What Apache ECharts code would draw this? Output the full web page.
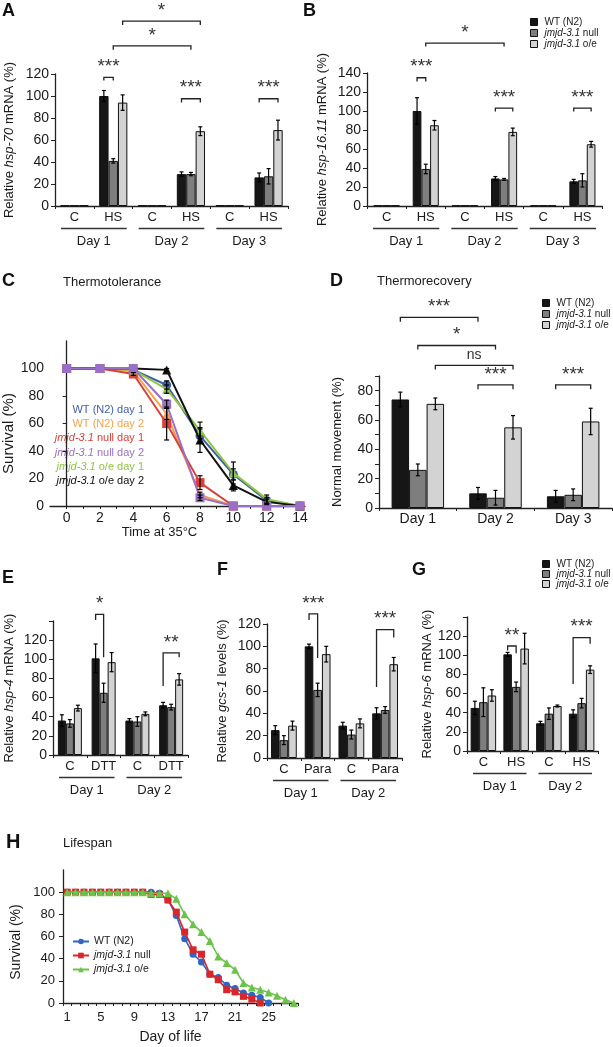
<!DOCTYPE html>
<html>
<head>
<meta charset="utf-8">
<script src="https://cdn.jsdelivr.net/npm/echarts@6/dist/echarts.min.js"></script>
<style>
html, body { margin: 0; padding: 0; background: #fff; }
#fig { width: 613px; height: 1047px; }
</style>
</head>
<body>
<div id="fig"></div>
<script>
// genotypes (shared by the bar panels)
const genotypes = ['WT (N2)', 'jmjd-3.1 null', 'jmjd-3.1 o/e'];

// A - hsp-70 mRNA
const catsA = ['C', 'HS', 'C', 'HS', 'C', 'HS'];
const daysA = ['Day 1', 'Day 2', 'Day 3'];
const hsp70WT = [0.5, 100, 0.5, 29, 0.5, 26];
const hsp70Null = [0.5, 41, 0.5, 29, 0.5, 27];
const hsp70OE = [0.5, 94, 0.5, 68, 0.5, 69];
const hsp70WTErr = [0, 5, 0, 2, 0, 4];
const hsp70NullErr = [0, 2, 0, 1.5, 0, 7];
const hsp70OEErr = [0, 7, 0, 4, 0, 9];
const starsA = ['*', '*', '***', '***', '***'];

// B - hsp-16.11 mRNA
const catsB = ['C', 'HS', 'C', 'HS', 'C', 'HS'];
const daysB = ['Day 1', 'Day 2', 'Day 3'];
const hsp16WT = [0.5, 100, 0.5, 29, 0.5, 26];
const hsp16Null = [0.5, 39, 0.5, 28, 0.5, 27];
const hsp16OE = [0.5, 85, 0.5, 78, 0.5, 65];
const hsp16WTErr = [0, 14, 0, 2, 0, 2];
const hsp16NullErr = [0, 5, 0, 1, 0, 7];
const hsp16OEErr = [0, 5, 0, 4, 0, 3];
const starsB = ['*', '***', '***', '***'];

// C - thermotolerance
const timesC = [0, 2, 4, 6, 8, 10, 12, 14];
const namesC = ['WT (N2) day 1', 'WT (N2) day 2', 'jmjd-3.1 null day 1', 'jmjd-3.1 null day 2', 'jmjd-3.1 o/e day 1', 'jmjd-3.1 o/e day 2'];
const survWTd1 = [100, 100, 99, 88, 51, 23, 4, 0];
const survWTd2 = [100, 100, 98, 67, 8, 0, 0, 0];
const survNulld1 = [100, 100, 96, 60, 17, 0, 0, 0];
const survNulld2 = [100, 100, 100, 74, 6, 0, 0, 0];
const survOEd1 = [100, 100, 99, 85, 55, 24, 5, 0];
const survOEd2 = [100, 100, 100, 99, 48, 15, 3, 0];
const errWTd1 = [0, 0, 0, 3, 5, 4, 2, 0];
const errWTd2 = [0, 0, 0, 4, 2, 0, 0, 0];
const errNulld1 = [0, 0, 1, 12, 5, 0, 0, 0];
const errNulld2 = [0, 0, 0, 3, 2, 0, 0, 0];
const errOEd1 = [0, 0, 0, 3, 6, 8, 3, 0];
const errOEd2 = [0, 0, 0, 1, 9, 4, 2, 0];
const xTicksC = [0, 1, 2, 3, 4, 5, 6, 7, 8, 9, 10, 11, 12, 13, 14];
const xLabelsC = [0, 2, 4, 6, 8, 10, 12, 14];
const yLabelsSurv = [0, 20, 40, 60, 80, 100];

// D - thermorecovery
const catsD = ['Day 1', 'Day 2', 'Day 3'];
const moveWT = [74, 10, 8];
const moveNull = [26, 7, 9];
const moveOE = [71, 55, 59];
const moveWTErr = [5, 4, 4];
const moveNullErr = [4, 5, 4];
const moveOEErr = [4, 8, 9];
const starsD = ['***', '*', 'ns', '***', '***'];
const yLabelsD = [0, 20, 40, 60, 80];

// E - hsp-4 mRNA (DTT)
const catsE = ['C', 'DTT', 'C', 'DTT'];
const daysEFG = ['Day 1', 'Day 2'];
const hsp4WT = [36, 101, 36, 52];
const hsp4Null = [33, 65, 35, 50];
const hsp4OE = [49, 97, 43, 79];
const hsp4WTErr = [6, 15, 2, 3];
const hsp4NullErr = [4, 10, 5, 3];
const hsp4OEErr = [3, 10, 2, 6];
const starsE = ['*', '**'];
const yLabels120 = [0, 20, 40, 60, 80, 100, 120];

// F - gcs-1 levels (paraquat)
const catsF = ['C', 'Para', 'C', 'Para'];
const gcsWT = [25, 100, 29, 40];
const gcsNull = [16, 61, 21, 43];
const gcsOE = [29, 93, 31, 84];
const gcsWTErr = [4, 2, 3, 5];
const gcsNullErr = [4, 6, 4, 3];
const gcsOEErr = [4, 7, 4, 6];
const starsF = ['***', '***'];

// G - hsp-6 mRNA (HS)
const catsG = ['C', 'HS', 'C', 'HS'];
const hsp6WT = [45, 101, 29, 39];
const hsp6Null = [51, 67, 39, 50];
const hsp6OE = [58, 107, 47, 85];
const hsp6WTErr = [7, 2, 2, 4];
const hsp6NullErr = [15, 5, 6, 5];
const hsp6OEErr = [6, 16, 1, 4];
const starsG = ['**', '***'];

// H - lifespan
const daysH = ['1', '2', '3', '4', '5', '6', '7', '8', '9', '10', '11', '12', '13', '14',
  '15', '16', '17', '18', '19', '20', '21', '22', '23', '24', '25', '26', '27', '28'];
const lifeWT = [100, 100, 100, 100, 100, 100, 100, 100, 100, 100, 100, 99, 93, 79,
  58, 44, 37, 26, 23, 16, 13, 9, 7, 5, 0, null, null, null];
const lifeNull = [100, 100, 100, 100, 100, 100, 100, 100, 100, 100, 98, 98, 93, 82,
  64, 48, 44, 26, 21, 12, 10, 6, 3.5, 0, null, null, null, null];
const lifeOE = [100, 100, 100, 100, 100, 100, 100, 100, 100, 100, 99, 99, 99, 94,
  80, 71, 64, 56, 42, 36, 30, 18, 14, 12, 9.5, 6.5, 3, 0];
const namesH = ['H:WT (N2)', 'H:jmjd-3.1 null', 'H:jmjd-3.1 o/e'];

// ---- styling ----
const FONT = 'Liberation Sans, Arial, Helvetica, sans-serif';
const INK = '#1a1a1a';
const barFills = ['#161616', '#7e7e7e', '#d3d3d3'];
const colorsC = ['#3f5ea8', '#f4a24a', '#d8413a', '#9a6fc6', '#8dc63f', '#111111'];
const symbolsC = ['circle', 'triangle', 'rect', 'rect', 'triangle', 'triangle'];
const colorsH = ['#2f66c2', '#d9262b', '#6cc34a'];
const symbolsH = ['circle', 'rect', 'triangle'];

const grids = [], xAxes = [], yAxes = [], series = [];

function italicName(name) {
  return name.replace('H:', '').replace('jmjd-3.1', '{i|jmjd-3.1}');
}

function errorSeries(gi, k, values, errs, barW) {
  return {
    type: 'custom', xAxisIndex: gi, yAxisIndex: gi, clip: false, silent: true, z: 5,
    data: values.map((v, i) => [i, v, errs[i]]),
    renderItem: function (params, api) {
      const e = api.value(2);
      if (!e) return;
      const top = api.coord([api.value(0), api.value(1) + e]);
      const bot = api.coord([api.value(0), api.value(1) - e]);
      const x = top[0] + (k - 1) * barW;
      const st = { stroke: '#000', lineWidth: 1.2 };
      return {
        type: 'group', children: [
          { type: 'line', shape: { x1: x, y1: top[1], x2: x, y2: bot[1] }, style: st },
          { type: 'line', shape: { x1: x - 2, y1: top[1], x2: x + 2, y2: top[1] }, style: st },
          { type: 'line', shape: { x1: x - 2, y1: bot[1], x2: x + 2, y2: bot[1] }, style: st }
        ]
      };
    }
  };
}

// bracket: [fromCat, fromBar, toCat, toBar, level, leftEnd, rightEnd]
function bracketSeries(gi, list, labels, barW) {
  return {
    type: 'custom', xAxisIndex: gi, yAxisIndex: gi, clip: false, silent: true, z: 6,
    data: list, encode: { x: 0, y: 4 },
    renderItem: function (params, api) {
      const b = list[params.dataIndex];
      const lab = labels[params.dataIndex];
      const p1 = api.coord([b[0], b[4]]);
      const p2 = api.coord([b[2], b[4]]);
      const x1 = p1[0] + (b[1] - 1) * barW;
      const x2 = p2[0] + (b[3] - 1) * barW;
      const y1 = api.coord([b[0], b[5]])[1];
      const y2 = api.coord([b[2], b[6]])[1];
      const ns = lab === 'ns';
      return {
        type: 'group', children: [
          { type: 'polyline', shape: { points: [[x1, y1], [x1, p1[1]], [x2, p1[1]], [x2, y2]] },
            style: { stroke: '#222', lineWidth: 1.3, fill: null } },
          { type: 'text', x: (x1 + x2) / 2, y: p1[1] - (ns ? 3 : 1),
            style: { text: lab, align: 'center', verticalAlign: 'bottom', fill: '#333',
              font: (ns ? '14px ' : '19px ') + FONT } }
        ]
      };
    }
  };
}

function daySeries(gi, groups, labels) {
  return {
    type: 'custom', xAxisIndex: gi, yAxisIndex: gi, clip: false, silent: true,
    data: groups,
    renderItem: function (params, api) {
      const g = groups[params.dataIndex];
      const a = api.coord([g[0], 0]);
      const b = api.coord([g[1], 0]);
      const half = api.size([1, 0])[0] / 2;
      const x1 = a[0] - half + 6, x2 = b[0] + half - 6;
      const y = a[1] + 22.5;
      return {
        type: 'group', children: [
          { type: 'line', shape: { x1: x1, y1: y, x2: x2, y2: y }, style: { stroke: '#333', lineWidth: 1.5 } },
          { type: 'text', x: (x1 + x2) / 2, y: y + 13,
            style: { text: labels[params.dataIndex], align: 'center', verticalAlign: 'middle', fill: INK, font: '13px ' + FONT } }
        ]
      };
    }
  };
}

function valueAxis(gi, max, interval, name, nameGap, labels, ticks, nameSize) {
  return {
    type: 'value', gridIndex: gi, min: 0, max: max, interval: interval,
    name: name, nameLocation: 'middle', nameGap: nameGap,
    nameTextStyle: { fontSize: nameSize || 13, color: INK, fontFamily: FONT,
      rich: { i: { fontStyle: 'italic', fontSize: nameSize || 13, color: INK, fontFamily: FONT } } },
    axisLine: { show: true, lineStyle: { color: '#222', width: 1.3 } },
    axisTick: { show: true, length: 4, lineStyle: { color: '#222' }, customValues: ticks },
    axisLabel: { fontSize: 14, color: INK, margin: 6, customValues: labels },
    splitLine: { show: false }
  };
}

function addBarPanel(p) {
  const gi = grids.length;
  grids.push({ left: p.box[0], top: p.box[1], width: p.box[2], height: p.box[3], containLabel: false });
  xAxes.push({
    type: 'category', gridIndex: gi, data: p.cats,
    axisLine: { lineStyle: { color: '#222', width: 1.3 } },
    axisTick: { show: true, length: 3, lineStyle: { color: '#222' } },
    axisLabel: { fontSize: p.catSize || 13, color: INK, margin: p.catMargin || 5, interval: 0 }
  });
  yAxes.push(valueAxis(gi, p.max, p.interval || 20, p.yName, p.nameGap, p.yLabels, p.yTicks));
  p.values.forEach(function (vals, k) {
    series.push({
      type: 'bar', name: genotypes[k], xAxisIndex: gi, yAxisIndex: gi, data: vals,
      barWidth: p.barW, barGap: '0%', z: 2,
      itemStyle: { color: barFills[k], borderColor: '#111', borderWidth: 1 },
      emphasis: { disabled: true }
    });
    series.push(errorSeries(gi, k, vals, p.errs[k], p.barW));
  });
  if (p.brackets) series.push(bracketSeries(gi, p.brackets, p.stars, p.barW));
  if (p.dayGroups) series.push(daySeries(gi, p.dayGroups, p.days));
}

// A
addBarPanel({
  box: [55, 74, 233, 132], cats: catsA, max: 120, barW: 9.4,
  yName: 'Relative {i|hsp-70} mRNA (%)', nameGap: 39,
  values: [hsp70WT, hsp70Null, hsp70OE], errs: [hsp70WTErr, hsp70NullErr, hsp70OEErr],
  brackets: [[1, 2, 3, 2, 168, 164.5, 164.5], [1, 1, 3, 1, 145.5, 142, 142],
    [1, 0, 1, 1, 117, 114, 114], [3, 0, 3, 2, 97.5, 94, 94], [5, 0, 5, 2, 97.5, 94, 94]],
  stars: starsA, dayGroups: [[0, 1], [2, 3], [4, 5]], days: daysA
});
// B
addBarPanel({
  box: [367, 73, 235, 133], cats: catsB, max: 140, barW: 8.7,
  yName: 'Relative {i|hsp-16.11} mRNA (%)', nameGap: 38,
  values: [hsp16WT, hsp16Null, hsp16OE], errs: [hsp16WTErr, hsp16NullErr, hsp16OEErr],
  brackets: [[1, 1, 3, 1, 171.5, 168, 168], [1, 0, 1, 1, 135, 131, 131],
    [3, 0, 3, 2, 103, 99.5, 99.5], [5, 0, 5, 2, 103, 99.5, 99.5]],
  stars: starsB, dayGroups: [[0, 1], [2, 3], [4, 5]], days: daysB
});
// D
addBarPanel({
  box: [379, 376, 233, 132], cats: catsD, max: 90, interval: 10, barW: 17.5,
  yName: 'Normal movement (%)', nameGap: 35, yLabels: yLabelsD, catSize: 14, catMargin: 4,
  values: [moveWT, moveNull, moveOE], errs: [moveWTErr, moveNullErr, moveOEErr],
  brackets: [[0, 0, 1, 0, 130, 127, 127], [0, 1, 1, 1, 110.8, 108, 108], [0, 2, 1, 2, 97.3, 94.5, 94.5],
    [1, 0, 1, 2, 84, 81, 81], [2, 0, 2, 2, 84, 81, 81]],
  stars: starsD
});
// E
addBarPanel({
  box: [53, 621, 135, 134], cats: catsE, max: 140, barW: 8,
  yName: 'Relative {i|hsp-4} mRNA (%)', nameGap: 37, yLabels: yLabels120,
  values: [hsp4WT, hsp4Null, hsp4OE], errs: [hsp4WTErr, hsp4NullErr, hsp4OEErr],
  brackets: [[1, 0, 1, 1, 147, 141, 102], [3, 0, 3, 2, 106.8, 72, 102]],
  stars: starsE, dayGroups: [[0, 1], [2, 3]], days: daysEFG
});
// F
addBarPanel({
  box: [267, 624, 135, 134], cats: catsF, max: 120, barW: 8.6,
  yName: 'Relative {i|gcs-1} levels (%)', nameGap: 38,
  values: [gcsWT, gcsNull, gcsOE], errs: [gcsWTErr, gcsNullErr, gcsOEErr],
  brackets: [[1, 0, 1, 1, 129, 123.5, 89.5], [3, 0, 3, 2, 115, 63.5, 108]],
  stars: starsF, dayGroups: [[0, 1], [2, 3]], days: daysEFG
});
// G
addBarPanel({
  box: [467, 617, 131, 134], cats: catsG, max: 140, barW: 8.5,
  yName: 'Relative {i|hsp-6} mRNA (%)', nameGap: 33, yLabels: yLabels120,
  values: [hsp6WT, hsp6Null, hsp6OE], errs: [hsp6WTErr, hsp6NullErr, hsp6OEErr],
  brackets: [[1, 0, 1, 1, 109.7, 105, 102], [3, 0, 3, 2, 118.4, 70, 112]],
  stars: starsG, dayGroups: [[0, 1], [2, 3]], days: daysEFG
});

// C - thermotolerance lines
const giC = grids.length;
grids.push({ left: 50, top: 341, width: 255, height: 165, containLabel: false });
xAxes.push({
  type: 'value', gridIndex: giC, min: -1, max: 14.3, interval: 1,
  name: 'Time at 35°C', nameLocation: 'middle', nameGap: 20,
  nameTextStyle: { fontSize: 13, color: INK, padding: [0, 36, 0, 0] },
  axisLine: { onZero: false, lineStyle: { color: '#222', width: 1.3 } },
  axisTick: { show: true, length: 3, lineStyle: { color: '#222' }, customValues: xTicksC },
  axisLabel: { fontSize: 14, color: INK, margin: 5, customValues: xLabelsC },
  splitLine: { show: false }
});
yAxes.push(valueAxis(giC, 120, 20, 'Survival (%)', 32, yLabelsSurv, yLabelsSurv, 15));
yAxes[yAxes.length - 1].nameTextStyle.padding = [0, 20, 0, 0];
[survWTd1, survWTd2, survNulld1, survOEd1, survOEd2, survNulld2].forEach(function (vals, n) {
  const idx = [0, 1, 2, 4, 5, 3][n];
  const errs = [errWTd1, errWTd2, errNulld1, errOEd1, errOEd2, errNulld2][n];
  series.push({
    type: 'line', name: 'C:' + namesC[idx], xAxisIndex: giC, yAxisIndex: giC,
    data: timesC.map((t, i) => [t, vals[i]]),
    symbol: symbolsC[idx], symbolSize: 9, showAllSymbol: true, z: 3 + n,
    lineStyle: { color: colorsC[idx], width: 2 },
    itemStyle: { color: colorsC[idx] },
    emphasis: { disabled: true }
  });
  series.push({
    type: 'custom', xAxisIndex: giC, yAxisIndex: giC, silent: true, z: 12,
    data: timesC.map((t, i) => [t, vals[i], errs[i]]),
    renderItem: function (params, api) {
      const e = api.value(2);
      if (!e) return;
      const top = api.coord([api.value(0), api.value(1) + e]);
      const bot = api.coord([api.value(0), api.value(1) - e]);
      const st = { stroke: '#000', lineWidth: 1.2 };
      return {
        type: 'group', children: [
          { type: 'line', shape: { x1: top[0], y1: top[1], x2: top[0], y2: bot[1] }, style: st },
          { type: 'line', shape: { x1: top[0] - 2.5, y1: top[1], x2: top[0] + 2.5, y2: top[1] }, style: st },
          { type: 'line', shape: { x1: top[0] - 2.5, y1: bot[1], x2: top[0] + 2.5, y2: bot[1] }, style: st }
        ]
      };
    }
  });
});

// H - lifespan
const giH = grids.length;
grids.push({ left: 63, top: 870, width: 235, height: 133, containLabel: false });
xAxes.push({
  type: 'category', gridIndex: giH, data: daysH,
  name: 'Day of life', nameLocation: 'middle', nameGap: 27,
  nameTextStyle: { fontSize: 14, color: INK, padding: [0, 20, 0, 0] },
  axisLine: { lineStyle: { color: '#222', width: 1.3 } },
  axisTick: { show: true, length: 3, interval: 0, lineStyle: { color: '#222' } },
  axisLabel: { fontSize: 13, color: INK, margin: 8, interval: 3 }
});
yAxes.push(valueAxis(giH, 120, 20, 'Survival (%)', 40, yLabelsSurv, yLabelsSurv, 14));
yAxes[yAxes.length - 1].nameTextStyle.padding = [0, 11, 0, 0];
yAxes[yAxes.length - 1].axisLabel.fontSize = 13;
yAxes[yAxes.length - 1].axisLabel.margin = 8;
[lifeWT, lifeNull, lifeOE].forEach(function (vals, k) {
  series.push({
    type: 'line', name: namesH[k], xAxisIndex: giH, yAxisIndex: giH, data: vals,
    symbol: symbolsH[k], symbolSize: k === 2 ? 8 : 7, showAllSymbol: true, z: 3 + k,
    lineStyle: { color: colorsH[k], width: 1.6 },
    itemStyle: { color: colorsH[k] },
    emphasis: { disabled: true }
  });
});

// legends
function barLegend(left, top, gap) {
  return {
    data: genotypes, left: left, top: top, orient: 'vertical', icon: 'rect',
    itemWidth: 7, itemHeight: 7, itemGap: gap, selectedMode: false, padding: 0,
    itemStyle: { borderColor: '#111', borderWidth: 1 },
    formatter: italicName,
    textStyle: { fontSize: 10, color: INK, lineHeight: 10, padding: [0, 0, 0, 2],
      rich: { i: { fontStyle: 'italic', fontSize: 10, color: INK, lineHeight: 10 } } }
  };
}
const legends = [
  barLegend(530, 17, 1),
  barLegend(542, 298, 1),
  barLegend(542, 559, 0),
  {
    data: namesH, left: 72, top: 936, orient: 'vertical', itemWidth: 16, itemHeight: 7,
    itemGap: 3, selectedMode: false, padding: 0, formatter: italicName,
    textStyle: { fontSize: 10.5, color: INK, rich: { i: { fontStyle: 'italic', fontSize: 10.5, color: INK } } }
  }
];

// panel letters and titles
function letter(t, left, top, size) {
  return { text: t, left: left, top: top, padding: 0,
    textStyle: { fontSize: size || 18, fontWeight: 'bold', color: '#111', fontFamily: FONT } };
}
function heading(t, left, top) {
  return { text: t, left: left, top: top, padding: 0,
    textStyle: { fontSize: 13, fontWeight: 'normal', color: INK, fontFamily: FONT } };
}
const titles = [
  letter('A', 2, 2), letter('B', 303, 2), letter('C', 2, 272), heading('Thermotolerance', 63, 276),
  letter('D', 330, 272), heading('Thermorecovery', 377, 275), letter('E', 2, 569),
  letter('F', 217, 561), letter('G', 412, 561), letter('H', 6, 832, 20), heading('Lifespan', 63, 837)
];

// C legend as coloured text, right aligned
const legendC = namesC.map(function (n, i) {
  return {
    type: 'text', x: 144, y: 410 + i * 14.2,
    style: { text: italicName(n), fill: colorsC[i], font: '11px ' + FONT, align: 'right', verticalAlign: 'middle',
      rich: { i: { fontStyle: 'italic', fill: colorsC[i], fontSize: 11, fontFamily: FONT } } }
  };
});

const chart = echarts.init(document.getElementById('fig'), null, { renderer: 'canvas' });
chart.setOption({
  animation: false,
  backgroundColor: '#fff',
  textStyle: { fontFamily: FONT },
  title: titles,
  legend: legends,
  grid: grids,
  xAxis: xAxes,
  yAxis: yAxes,
  graphic: { elements: legendC },
  series: series
});
</script>
</body>
</html>
